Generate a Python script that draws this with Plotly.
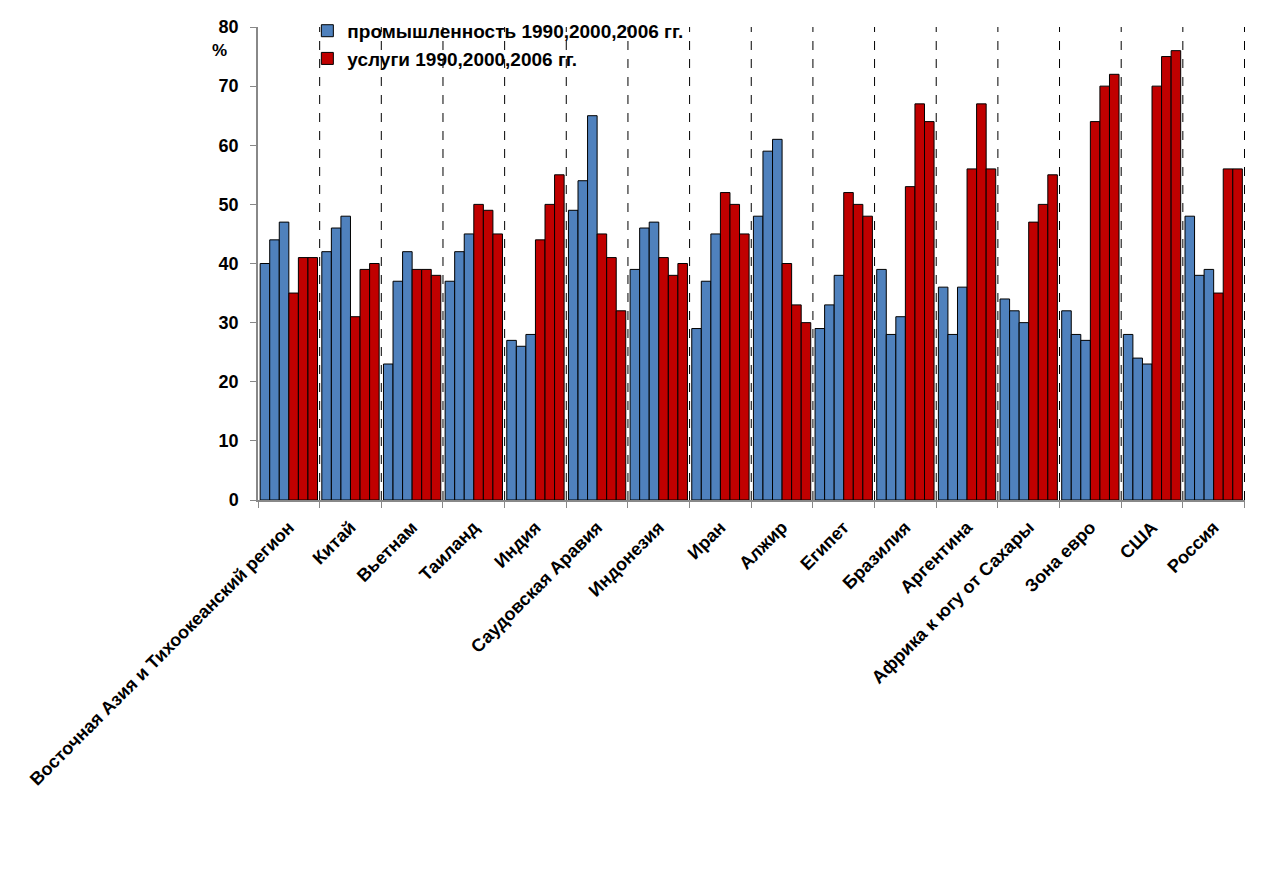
import plotly.graph_objects as go

categories = ["Восточная Азия и Тихоокеанский регион", "Китай", "Вьетнам", "Таиланд",
              "Индия", "Саудовская Аравия", "Индонезия", "Иран", "Алжир", "Египет",
              "Бразилия", "Аргентина", "Африка к югу от Сахары", "Зона евро", "США", "Россия"]

ind_1990 = [40, 42, 23, 37, 27, 49, 39, 29, 48, 29, 39, 36, 34, 32, 28, 48]
ind_2000 = [44, 46, 37, 42, 26, 54, 46, 37, 59, 33, 28, 28, 32, 28, 24, 38]
ind_2006 = [47, 48, 42, 45, 28, 65, 47, 45, 61, 38, 31, 36, 30, 27, 23, 39]
srv_1990 = [35, 31, 39, 50, 44, 45, 41, 52, 40, 52, 53, 56, 47, 64, 70, 35]
srv_2000 = [41, 39, 39, 49, 50, 41, 38, 50, 33, 50, 67, 67, 50, 70, 75, 56]
srv_2006 = [41, 40, 38, 45, 55, 32, 40, 45, 30, 48, 64, 56, 55, 72, 76, 56]

legend_ind = "промышленность 1990,2000,2006 гг."
legend_srv = "услуги 1990,2000,2006 гг."

BLUE = "#4F81BD"
RED = "#C00000"

fig = go.Figure()
series = [
    (ind_1990, BLUE, "ind", legend_ind, True),
    (ind_2000, BLUE, "ind", legend_ind, False),
    (ind_2006, BLUE, "ind", legend_ind, False),
    (srv_1990, RED, "srv", legend_srv, True),
    (srv_2000, RED, "srv", legend_srv, False),
    (srv_2006, RED, "srv", legend_srv, False),
]
for vals, col, grp, name, show in series:
    fig.add_trace(go.Bar(
        x=categories, y=vals, name=name, legendgroup=grp, showlegend=show,
        marker=dict(color=col, line=dict(color="black", width=1)),
    ))

shapes = []
for i in range(len(categories)):
    shapes.append(dict(type="line", xref="x", yref="y", x0=i + 0.5, x1=i + 0.5, y0=0, y1=80,
                       line=dict(color="black", width=1, dash="dash"), layer="above"))

fig.update_layout(
    width=1272, height=895,
    margin=dict(l=250, r=35, t=19, b=403, autoexpand=False),
    plot_bgcolor="white", paper_bgcolor="white",
    barmode="group", bargap=0.07, bargroupgap=0,
    font=dict(family="Liberation Sans, Arial", color="black"),
    shapes=shapes,
    legend=dict(x=0.05, y=1.032, xanchor="left", yanchor="top",
                bgcolor="rgba(0,0,0,0)", tracegroupgap=0, itemwidth=30,
                font=dict(size=19, weight="bold", family="Liberation Sans, Arial")),
    xaxis=dict(type="category", showline=True, linecolor="#888888", linewidth=1.5,
               ticks="outside", ticklen=6, tickcolor="#888888", tickson="boundaries",
               tickangle=-45, tickfont=dict(size=18, weight="bold"), showgrid=False,
               ticklabelstandoff=8, automargin=False),
    yaxis=dict(range=[0, 80], dtick=10, showline=True, linecolor="#888888", linewidth=1.5,
               ticks="outside", ticklen=6, tickcolor="#888888", showgrid=False, zeroline=False,
               tickfont=dict(size=18, weight="bold"), ticklabelstandoff=8, automargin=False),
    annotations=[dict(text="<b>%</b>", xref="paper", yref="paper", x=-0.0395, y=0.951,
                      showarrow=False, font=dict(size=17), xanchor="center", yanchor="middle")],
)

fig.write_html("out.html")
